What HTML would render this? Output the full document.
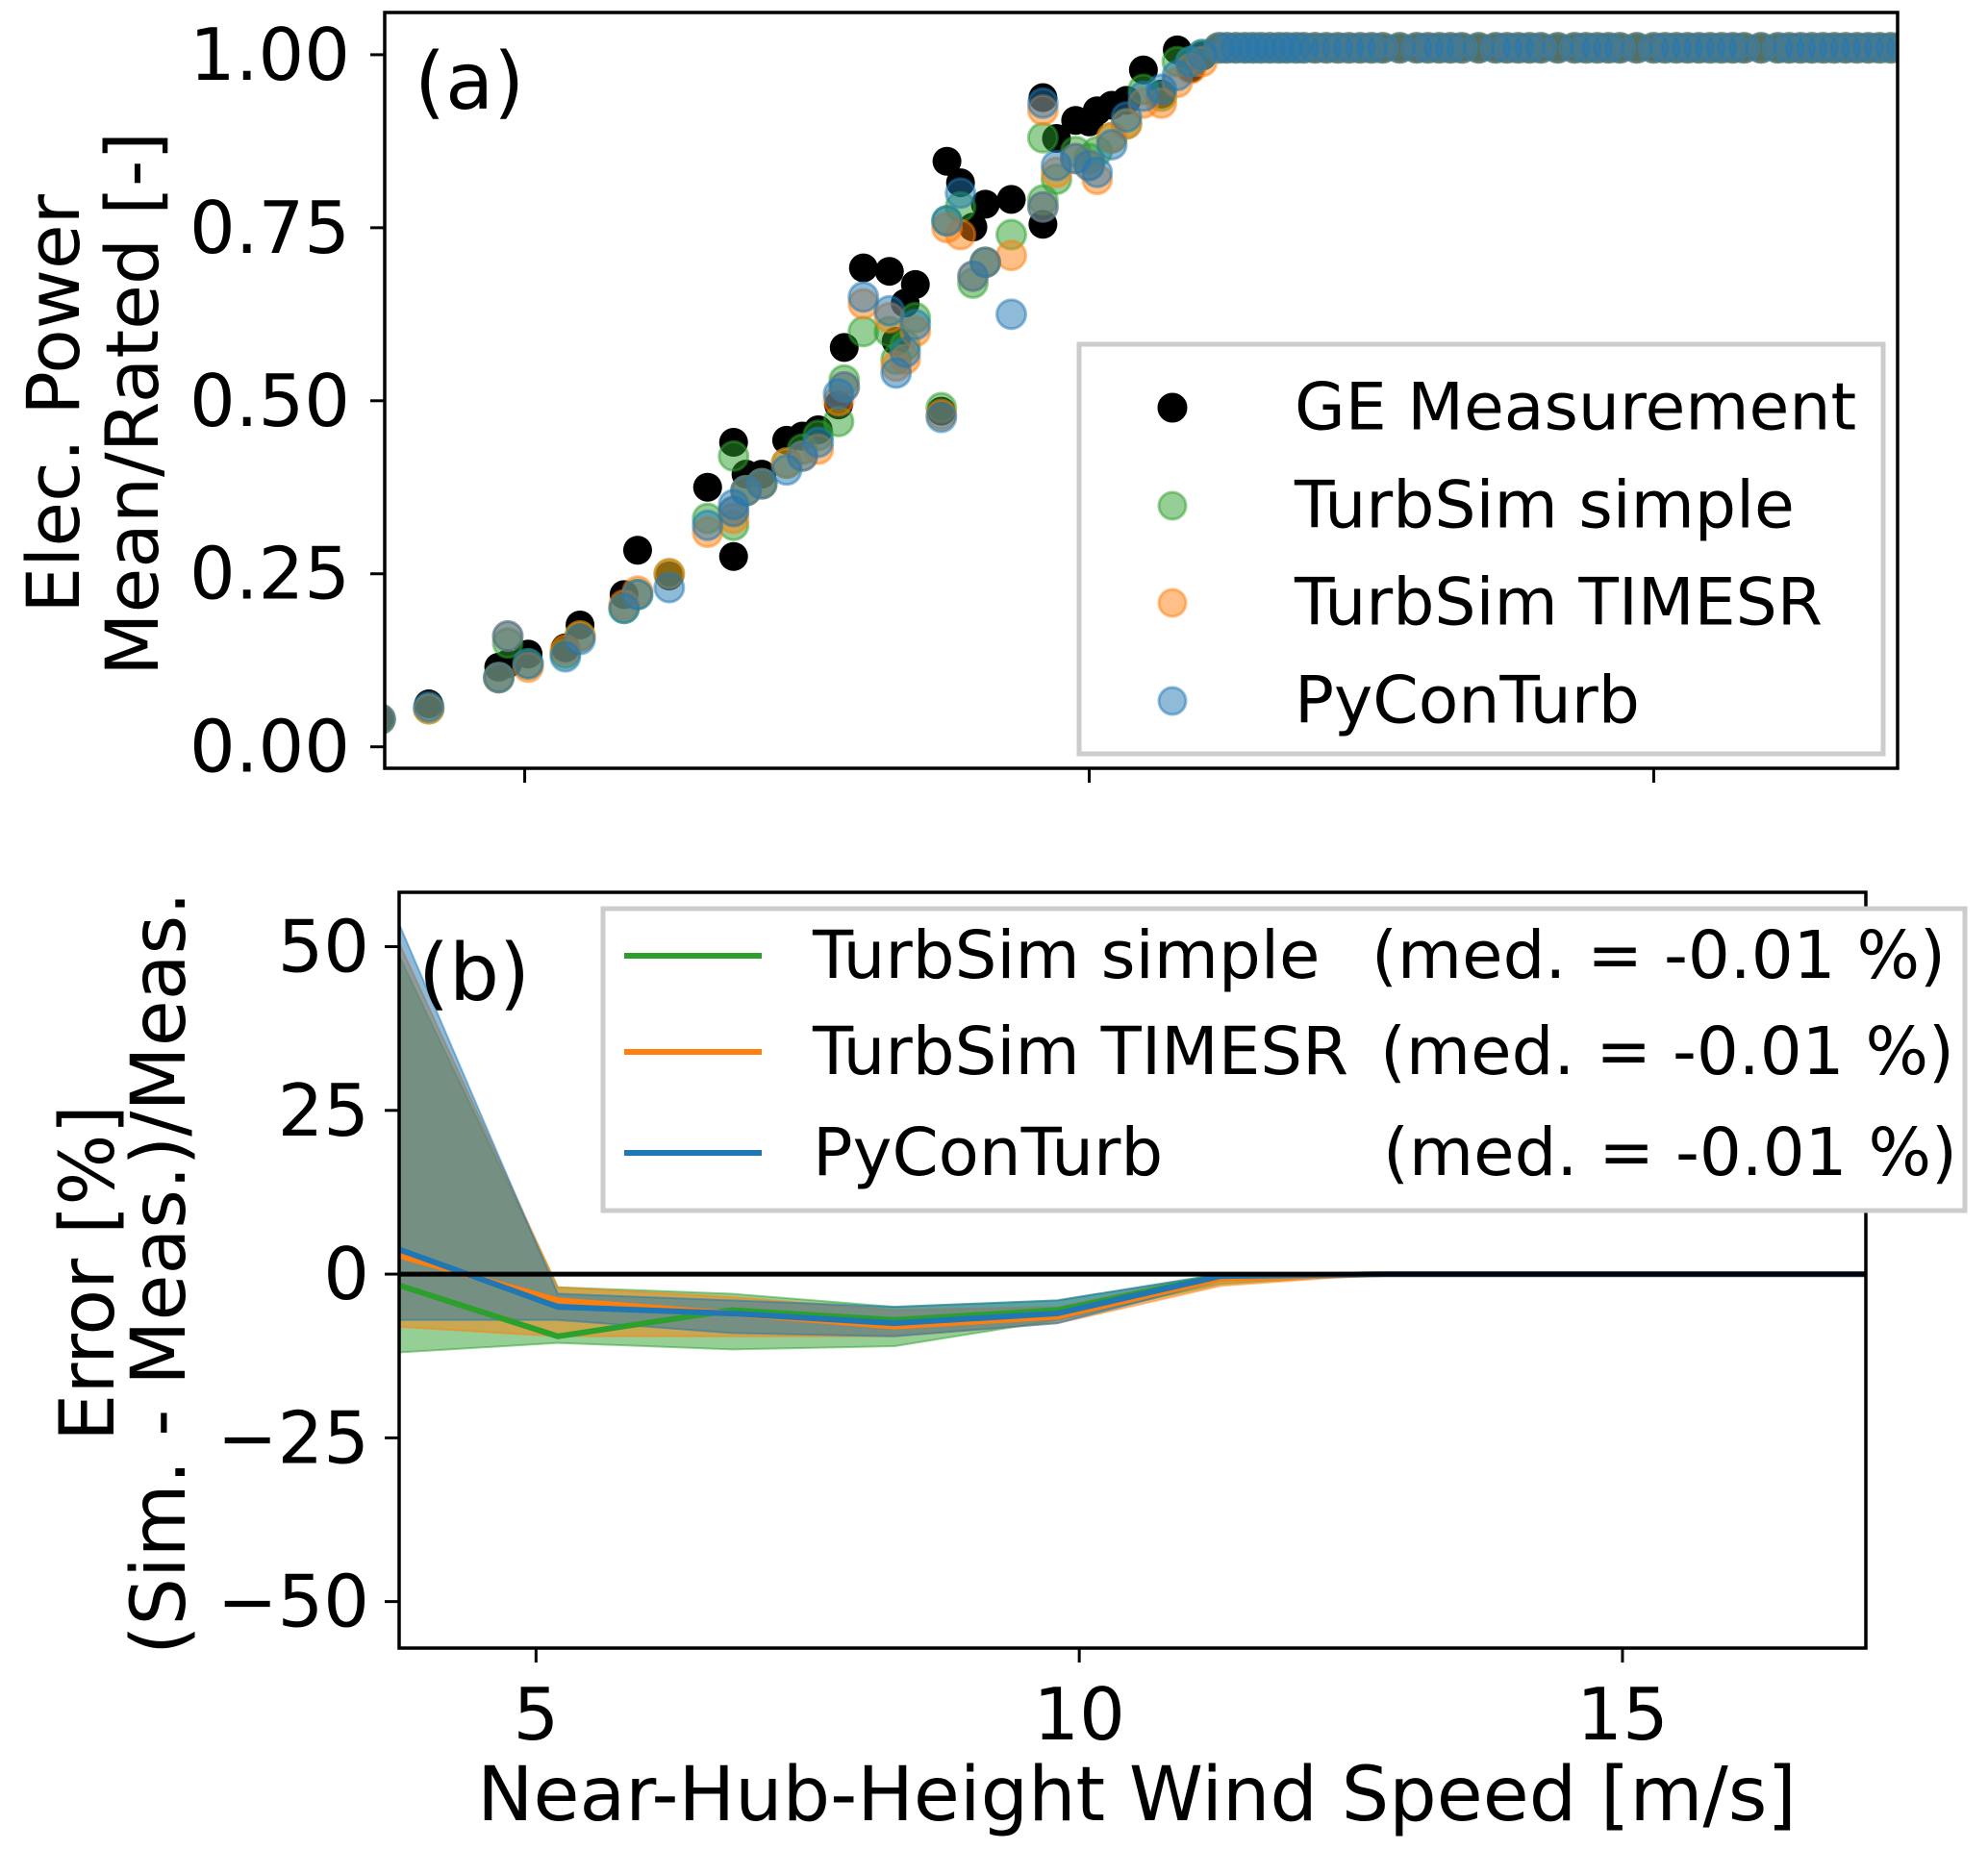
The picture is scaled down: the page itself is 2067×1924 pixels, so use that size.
<!DOCTYPE html>
<html><head><meta charset="utf-8"><style>
html,body{margin:0;padding:0;background:#fff;}
svg{display:block;font-family:"DejaVu Sans","Liberation Sans",sans-serif;}
</style></head><body>
<svg id="chart" xmlns="http://www.w3.org/2000/svg" width="2067" height="1924" viewBox="0 0 2067 1924">
<rect width="2067" height="1924" fill="#fff"/>
<g id="pa"></g>
<g id="pb"></g>
</svg>
<script>
// ---- Panel (a) data ----
const windSpeed = [3.72,4.15,4.77,4.85,5.03,5.36,5.49,5.88,6.0,6.28,6.62,6.85,6.85,6.96,7.1,7.32,7.46,7.6,7.78,7.83,8.0,8.23,8.37,8.29,8.46,8.69,8.74,8.86,8.97,9.08,9.31,9.59,9.59,9.71,9.88,10.0,10.07,10.2,10.33,10.48,10.64,10.78,10.9,11.0];
const measPower = [0.04,0.062,0.115,0.12,0.134,0.143,0.176,0.22,0.284,0.247,0.375,0.44,0.275,0.394,0.394,0.443,0.449,0.458,0.494,0.577,0.692,0.687,0.641,0.586,0.668,0.485,0.846,0.815,0.751,0.784,0.791,0.938,0.755,0.879,0.905,0.903,0.919,0.927,0.934,0.978,0.943,1.007,0.98,0.998];
const simplePower = [0.04,0.055,0.1,0.15,0.12,0.135,0.16,0.2,0.22,0.25,0.33,0.42,0.32,0.37,0.38,0.41,0.43,0.45,0.47,0.53,0.6,0.6,0.58,0.56,0.62,0.49,0.76,0.78,0.67,0.7,0.74,0.88,0.79,0.82,0.86,0.85,0.86,0.88,0.9,0.95,0.94,0.99,0.99,1.0];
const timesrPower = [0.04,0.055,0.1,0.16,0.115,0.14,0.16,0.205,0.225,0.25,0.31,0.34,0.33,0.37,0.38,0.41,0.42,0.43,0.5,0.52,0.64,0.62,0.56,0.55,0.6,0.48,0.75,0.74,0.68,0.7,0.71,0.92,0.78,0.83,0.85,0.84,0.82,0.88,0.9,0.93,0.93,0.96,0.98,0.99];
const pyconPower = [0.04,0.058,0.1,0.16,0.12,0.13,0.155,0.2,0.22,0.23,0.32,0.35,0.34,0.37,0.38,0.4,0.42,0.44,0.51,0.52,0.65,0.63,0.57,0.54,0.61,0.476,0.76,0.8,0.68,0.7,0.625,0.93,0.78,0.84,0.85,0.84,0.83,0.87,0.91,0.94,0.95,0.97,0.99,1.0];
const plateauWind = [11.15,11.22,11.3,11.38,11.45,11.52,11.6,11.68,11.75,11.83,11.9,12.0,12.1,12.2,12.3,12.4,12.5,12.6,12.75,12.9,13.0,13.1,13.2,13.3,13.45,13.6,13.7,13.8,13.9,14.0,14.15,14.3,14.4,14.5,14.6,14.7,14.85,15.0,15.1,15.2,15.3,15.4,15.5,15.6,15.7,15.8,15.95,16.1,16.2,16.3,16.4,16.5,16.6,16.7,16.8,16.9,17.0,17.1,17.2,17.3];
const plateauPower = [1.01,1.01,1.01,1.01,1.01,1.01,1.01,1.01,1.01,1.01,1.01,1.01,1.01,1.01,1.01,1.01,1.01,1.01,1.01,1.01,1.01,1.01,1.01,1.01,1.01,1.01,1.01,1.01,1.01,1.01,1.01,1.01,1.01,1.01,1.01,1.01,1.01,1.01,1.01,1.01,1.01,1.01,1.01,1.01,1.01,1.01,1.01,1.01,1.01,1.01,1.01,1.01,1.01,1.01,1.01,1.01,1.01,1.01,1.01,1.01];
const aYTicks = [0, 0.25, 0.5, 0.75, 1.0];
const aYTickLabels = ["0.00","0.25","0.50","0.75","1.00"];
const xTicks = [5, 10, 15];
const xTickLabels = ["5","10","15"];

// ---- Panel (b) data ----
const binWind = [3.70,5.2,6.8,8.3,9.8,11.3,12.8,14.3,15.8,17.3];
const simpleMed = [-1.5,-9.5,-5.5,-7,-5.5,-0.3,0,0,0,0];
const simpleUp  = [50,-2,-3,-5,-4,0,0,0,0,0];
const simpleLo  = [-12,-10.5,-11.5,-11,-7,-1.5,0,0,0,0];
const timesrMed = [3,-4,-6,-8,-6.5,-0.7,0,0,0,0];
const timesrUp  = [52,-2,-3.5,-5.5,-5,0,0,0,0,0];
const timesrLo  = [-8,-9.5,-9.5,-9.5,-7.5,-1.8,0,0,0,0];
const pyconMed  = [4,-5,-6,-7.5,-6,-0.3,0,0,0,0];
const pyconUp   = [55,-3,-4,-5,-4,0,0,0,0,0];
const pyconLo   = [-7,-7,-9,-9.5,-7.5,-1,0,0,0,0];
const bYTicks = [-50,-25,0,25,50];
const bYTickLabels = ["\u221250","\u221225","0","25","50"];

const NS="http://www.w3.org/2000/svg";
function mk(parent,tag,attrs,text){const e=document.createElementNS(NS,tag);for(const k in attrs)e.setAttribute(k,attrs[k]);if(text!==undefined)e.textContent=text;parent.appendChild(e);return e;}

const A={x0:400,x1:1973,y0:13,y1:799,xmin:3.76,xmax:17.16,ymin:-0.031,ymax:1.061};
const ax=v=>A.x0+(v-A.xmin)/(A.xmax-A.xmin)*(A.x1-A.x0);
const ay=v=>A.y1-(v-A.ymin)/(A.ymax-A.ymin)*(A.y1-A.y0);
const B={x0:415,x1:1940,y0:928,y1:1714,xmin:3.74,xmax:17.24,ymin:-57.1,ymax:58.3};
const bx=v=>B.x0+(v-B.xmin)/(B.xmax-B.xmin)*(B.x1-B.x0);
const by=v=>B.y1-(v-B.ymin)/(B.ymax-B.ymin)*(B.y1-B.y0);

const pa=document.getElementById('pa');
const pb=document.getElementById('pb');
const cpA=mk(pa,'clipPath',{id:'clipA'});mk(cpA,'rect',{x:A.x0,y:A.y0,width:A.x1-A.x0,height:A.y1-A.y0});
const cpB=mk(pb,'clipPath',{id:'clipB'});mk(cpB,'rect',{x:B.x0,y:B.y0,width:B.x1-B.x0,height:B.y1-B.y0});

const series=[
 {name:'meas',arr:measPower,fill:'#000',op:1,stroke:'none'},
 {name:'simple',arr:simplePower,fill:'#2ca02c',op:0.5,stroke:'#2ca02c'},
 {name:'timesr',arr:timesrPower,fill:'#ff7f0e',op:0.5,stroke:'#ff7f0e'},
 {name:'pycon',arr:pyconPower,fill:'#1f77b4',op:0.5,stroke:'#1f77b4'}];
const sg=mk(pa,'g',{'clip-path':'url(#clipA)'});


series.forEach(s=>{
  s.arr.forEach((p,i)=>{
    const c=mk(sg,'circle',{cx:ax(windSpeed[i]),cy:ay(p),r:15,fill:s.fill,'fill-opacity':s.op,stroke:s.stroke,'stroke-opacity':s.op,'stroke-width':3});
    
    
  });
  plateauPower.forEach((p,i)=>{
    const c=mk(sg,'circle',{cx:ax(plateauWind[i]),cy:ay(p),r:15,fill:s.fill,'fill-opacity':s.op,stroke:s.stroke,'stroke-opacity':s.op,'stroke-width':3});
    
    
  });
});

mk(pa,'rect',{x:A.x0,y:A.y0,width:A.x1-A.x0,height:A.y1-A.y0,fill:'none',stroke:'#000','stroke-width':3.5});
aYTicks.forEach((t,i)=>{
  const y=ay(t);
  mk(pa,'line',{x1:A.x0-15,x2:A.x0,y1:y,y2:y,stroke:'#000','stroke-width':3});
  const tl=mk(pa,'text',{x:364,y:y,'font-size':75,'text-anchor':'end','dominant-baseline':'central'},aYTickLabels[i]);
  
  
});
xTicks.forEach(t=>{const x=ax(t);mk(pa,'line',{x1:x,x2:x,y1:A.y1,y2:A.y1+15,stroke:'#000','stroke-width':3});});
mk(pa,'text',{x:431,y:113,'font-size':82,},'(a)');
mk(pa,'text',{x:82,y:420,'font-size':76,'text-anchor':'middle',transform:'rotate(-90 82 420)',},'Elec. Power');
mk(pa,'text',{x:164,y:420,'font-size':76,'text-anchor':'middle',transform:'rotate(-90 164 420)',},'Mean/Rated [-]');

const lga=mk(pa,'g',{});
mk(lga,'rect',{x:1122,y:358,width:836,height:426,fill:'#fff',stroke:'#cccccc','stroke-width':5});
const la=[['GE Measurement','#000',1],['TurbSim simple','#2ca02c',0.5],['TurbSim TIMESR','#ff7f0e',0.5],['PyConTurb','#1f77b4',0.5]];
const laY=[424,526,627,729];
la.forEach((e,i)=>{
  const g=mk(lga,'g',{});
  
  
  mk(g,'circle',{cx:1219,cy:laY[i],r:14,fill:e[1],'fill-opacity':e[2],stroke:e[1],'stroke-opacity':e[2],'stroke-width':3});
  mk(g,'text',{x:1346,y:laY[i],'font-size':68,'dominant-baseline':'central'},e[0]);
});

const fg=mk(pb,'g',{'clip-path':'url(#clipB)'});


const bands=[['simple',simpleUp,simpleLo,simpleMed,'#2ca02c'],['timesr',timesrUp,timesrLo,timesrMed,'#ff7f0e'],['pycon',pyconUp,pyconLo,pyconMed,'#1f77b4']];
bands.forEach(b=>{
  let d='';
  binWind.forEach((w,i)=>{d+=(i?'L':'M')+bx(w)+' '+by(b[1][i]);});
  for(let i=binWind.length-1;i>=0;i--)d+='L'+bx(binWind[i])+' '+by(b[2][i]);
  const p=mk(fg,'path',{d:d+'Z',fill:b[4],'fill-opacity':0.5,stroke:b[4],'stroke-opacity':0.5,'stroke-width':2});
  
  
});
bands.forEach(b=>{
  const pts=binWind.map((w,i)=>bx(w)+','+by(b[3][i])).join(' ');
  const l=mk(fg,'polyline',{points:pts,fill:'none',stroke:b[4],'stroke-width':6});
  
  
});
mk(pb,'line',{x1:B.x0,x2:B.x1,y1:by(0),y2:by(0),stroke:'#000','stroke-width':5,});
mk(pb,'rect',{x:B.x0,y:B.y0,width:B.x1-B.x0,height:B.y1-B.y0,fill:'none',stroke:'#000','stroke-width':3.5});
bYTicks.forEach((t,i)=>{
  const y=by(t);
  mk(pb,'line',{x1:B.x0-15,x2:B.x0,y1:y,y2:y,stroke:'#000','stroke-width':3});
  const tl=mk(pb,'text',{x:384,y:y,'font-size':75,'text-anchor':'end','dominant-baseline':'central'},bYTickLabels[i]);
  
  
});
xTicks.forEach((t,i)=>{
  const x=bx(t);
  mk(pb,'line',{x1:x,x2:x,y1:B.y1,y2:B.y1+15,stroke:'#000','stroke-width':3});
  const tl=mk(pb,'text',{x:x,y:1809,'font-size':75,'text-anchor':'middle'},xTickLabels[i]);
  
  
});
mk(pb,'text',{x:435,y:1040,'font-size':82,},'(b)');
mk(pb,'text',{x:1182,y:1893,'font-size':78,'text-anchor':'middle',},'Near-Hub-Height Wind Speed [m/s]');
mk(pb,'text',{x:118,y:1324,'font-size':78,'text-anchor':'middle',transform:'rotate(-90 118 1324)',},'Error [%]');
mk(pb,'text',{x:192,y:1324,'font-size':78,'text-anchor':'middle',transform:'rotate(-90 192 1324)',},'(Sim. - Meas.)/Meas.');

const lgb=mk(pb,'g',{});
mk(lgb,'rect',{x:627,y:945,width:1416,height:314,fill:'#fff',stroke:'#cccccc','stroke-width':5});
const lb=[['TurbSim simple','#2ca02c',1426],['TurbSim TIMESR','#ff7f0e',1435],['PyConTurb','#1f77b4',1438]];
const lbY=[994,1094,1199];
lb.forEach((e,i)=>{
  const g=mk(lgb,'g',{});
  
  
  mk(g,'line',{x1:649,x2:792,y1:lbY[i],y2:lbY[i],stroke:e[1],'stroke-width':6});
  mk(g,'text',{x:845,y:lbY[i],'font-size':69,'dominant-baseline':'central'},e[0]);
  mk(g,'text',{x:e[2],y:lbY[i],'font-size':69,'dominant-baseline':'central'},'(med. = -0.01 %)');
});
</script>
</body></html>
